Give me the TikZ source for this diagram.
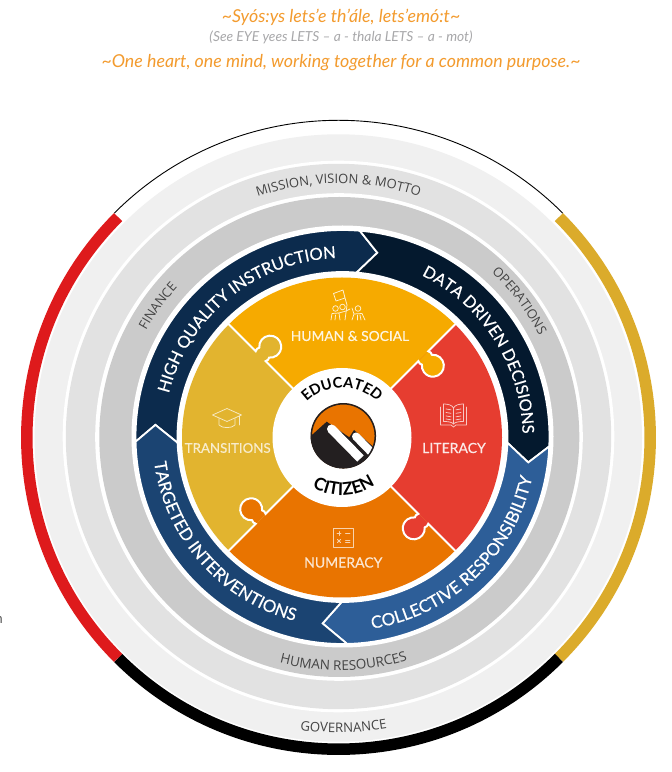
\documentclass[tikz,border=0pt]{standalone}
\usepackage{fontspec}
\setmainfont{Lato}
\newfontfamily\ringfont{Open Sans}
\newfontfamily\medfont[FakeBold=0.45]{Lato}
\usetikzlibrary{decorations.text}
\definecolor{ringA}{HTML}{F0F0F0}
\definecolor{ringB}{HTML}{E2E2E2}
\definecolor{ringC}{HTML}{CBCBCB}
\definecolor{hqi}{HTML}{0C2B4D}
\definecolor{ddd}{HTML}{04192E}
\definecolor{coll}{HTML}{2D5E98}
\definecolor{targ}{HTML}{1B4472}
\definecolor{human}{HTML}{F6AA00}
\definecolor{liter}{HTML}{E63D30}
\definecolor{numer}{HTML}{E97400}
\definecolor{trans}{HTML}{E2B42F}
\definecolor{motto}{HTML}{F39B2E}
\definecolor{subt}{HTML}{A8A8AA}
\definecolor{ringtxt}{HTML}{444444}
\definecolor{bandred}{HTML}{DE1A1C}
\definecolor{bandgold}{HTML}{DBAB2B}
\definecolor{logodark}{HTML}{231F20}
\tikzset{
  pxgrid/.style={x=1pt,y=-1pt,shift={(0pt,772pt)}},
  band/.style={line width=11.5pt},
  seam/.style={draw=white,line width=2pt},
  chevseg/.style={draw=white,line width=1.8pt,line join=miter},
  titletext/.style={inner sep=0pt},
  piecelabel/.style={inner sep=0pt},
  iconline/.style={line width=0.75pt,line cap=round,line join=round}
}
\newcommand{\chevpiece}[7]{%
  \fill[#1,chevseg] (#2:207pt) arc[start angle=#2,end angle=#3,radius=207pt]
    -- (#4:187.5pt) -- (#5:165pt)
    arc[start angle=#5,end angle=#6,radius=165pt] -- (#7:187.5pt) -- cycle;}
% radius, centre angle, half span, sign (-1 clockwise: tops outward; 1 ccw: tops inward), format, text
\newcommand{\curvedtext}[6]{%
  \pgfmathsetmacro{\startang}{#2-(#4)*(#3)}%
  \pgfmathsetmacro{\endang}{#2+(#4)*(#3)}%
  \path[decorate,decoration={text along path,text align=center,text={|#5|#6}}]
    (\startang:#1pt) arc[start angle=\startang,end angle=\endang,radius=#1pt];}
\newcommand{\knobpath}{(161,0) -- (122,0) .. controls (123,-2) and (123,-3.5) .. (122,-5)
   arc[start angle=50.5,end angle=-230.5,radius=11] .. controls (107,-3.5) and (107,-2) .. (108,0) -- (69,0)}
\begin{document}
\begin{tikzpicture}
\useasboundingbox (0pt,0pt) rectangle (672pt,772pt);
\fill[white] (0pt,0pt) rectangle (672pt,772pt);
% titles
\begin{scope}[pxgrid]
\node[titletext,text=motto] (title1) at (341,17) {\fontsize{17.8}{19}\selectfont\itshape\textasciitilde Syós:ys lets’e th’ále, lets’emó:t\textasciitilde};
\node[titletext,text=subt] (title2) at (341,37) {\fontsize{13.8}{15}\selectfont\itshape (See EYE yees LETS – a - thala LETS – a - mot)};
\node[titletext,text=motto] (title3) at (341,62.5) {\fontsize{17.8}{19}\selectfont\itshape\textasciitilde One heart, one mind, working together for a common purpose.\textasciitilde};
\node[text=ringtxt,inner sep=0pt,anchor=east,font=\fontsize{13}{14}\selectfont\ringfont] (stray) at (3,620) {n};
\end{scope}
% outer band
\begin{scope}[shift={(338.5pt,334.5pt)}]
\draw[black,line width=0.9pt] (135:317.2pt) arc[start angle=135,end angle=45,radius=317.2pt];
\draw[bandgold,band] (45:311.7pt) arc[start angle=45,end angle=-45,radius=311.7pt];
\draw[black,band] (-45:311.7pt) arc[start angle=-45,end angle=-135,radius=311.7pt];
\draw[bandred,band] (-135:311.7pt) arc[start angle=-135,end angle=-225,radius=311.7pt];
\end{scope}
% grey rings
\fill[ringA] (338.3pt,334pt) circle[radius=303.7pt];
\fill[white] (338.5pt,335.5pt) circle[radius=275.8pt];
\fill[ringB] (338.5pt,335.5pt) circle[radius=272.7pt];
\fill[white] (339pt,335pt) circle[radius=243.8pt];
\fill[ringC] (339.3pt,335pt) circle[radius=240pt];
\fill[white] (342.5pt,335.5pt) circle[radius=211pt];
% ring labels
\begin{scope}[shift={(338.5pt,334.5pt)}]
\curvedtext{254}{90}{30}{-1}{\ringfont\fontsize{13}{14}\selectfont\color{ringtxt}}{MISSION, VISION {\&} MOTTO}
\curvedtext{233}{-88.7}{30}{1}{\ringfont\fontsize{13.5}{14}\selectfont\color{ringtxt}}{HUMAN RESOURCES}
\curvedtext{295}{-89}{20}{1}{\ringfont\fontsize{13.2}{14}\selectfont\color{ringtxt}}{GOVERNANCE}
\curvedtext{220}{144}{20}{-1}{\ringfont\fontsize{13}{14}\selectfont\color{ringtxt}}{FINANCE}
\curvedtext{225}{37}{25}{-1}{\ringfont\fontsize{13}{14}\selectfont\color{ringtxt}}{OPERATIONS}
\end{scope}
% chevrons
\begin{scope}[shift={(342.5pt,335pt)}]
\chevpiece{hqi}{181.3}{85.2}{79.3}{85.1}{182}{176.3}
\chevpiece{ddd}{85.2}{-2.6}{-7.8}{-2}{85.1}{79.3}
\chevpiece{coll}{-2.6}{-88.7}{-96.1}{-90.3}{-2}{-7.8}
\chevpiece{targ}{-88.7}{-178.7}{176.3}{-178}{-90.3}{-96.1}
\curvedtext{179}{129}{50}{-1}{\medfont\fontsize{16.6}{18}\selectfont\color{white}}{HIGH QUALITY INSTRUCTION}
\curvedtext{180}{32.5}{42}{-1}{\medfont\fontsize{16.3}{18}\selectfont\color{white}}{DATA DRIVEN DECISIONS}
\curvedtext{194}{-46.6}{46}{1}{\medfont\fontsize{17}{18}\selectfont\color{white}}{COLLECTIVE RESPONSIBILITY}
\curvedtext{190}{221.5}{44}{1}{\medfont\fontsize{17}{18}\selectfont\color{white}}{TARGETED INTERVENTIONS}
\end{scope}
% puzzle
\begin{scope}[shift={(342pt,334.5pt)}]
\fill[human] (0,0) -- (135:160pt) arc[start angle=135,end angle=45,radius=160pt] -- cycle;
\fill[liter] (0,0) -- (45:160pt) arc[start angle=45,end angle=-45,radius=160pt] -- cycle;
\fill[numer] (0,0) -- (-45:160pt) arc[start angle=-45,end angle=-135,radius=160pt] -- cycle;
\fill[trans] (0,0) -- (-135:160pt) arc[start angle=-135,end angle=-225,radius=160pt] -- cycle;
\foreach \rot/\knobcol in {135/trans,45/human,-45/liter,-135/numer}{
  \begin{scope}[rotate=\rot,x=1pt,y=1pt]
    \fill[\knobcol] (122,0) .. controls (123,-2) and (123,-3.5) .. (122,-5)
      arc[start angle=50.5,end angle=-230.5,radius=11] .. controls (107,-3.5) and (107,-2) .. (108,0) -- cycle;
    \draw[seam] \knobpath;
  \end{scope}
}
\fill[white] (0,0) circle[radius=69.5pt];
\curvedtext{50}{90}{70}{-1}{\bfseries\fontsize{14.6}{16}\selectfont\color{black}}{EDUCATED}
\curvedtext{58}{-88}{60}{1}{\bfseries\fontsize{17.5}{18}\selectfont\color{black}}{CITIZEN}
\end{scope}
% logo, icons, labels
\begin{scope}[pxgrid]
\begin{scope}
\clip (343.3,435.8) circle[radius=32.5];
\fill[numer] (343.3,435.8) circle[radius=32.5];
\fill[logodark] (310,436.7) -- (326.7,421.7) -- (349.3,437.3) -- (354,430) -- (377,450) -- (377,470) -- (310,470) -- cycle;
\fill[white] (331.5,429) circle[radius=4.5];
\draw[white,line width=9pt] (331.5,429) -- (360.5,458.5);
\fill[white] (356,436.5) circle[radius=4];
\draw[white,line width=8pt] (356,436.5) -- (375,456);
\draw[logodark,line width=1.4pt] (350,439) -- (370,460);
\end{scope}
\draw[logodark,line width=1.5pt] (343.3,435.8) circle[radius=32];
\node[piecelabel,text=white!88!human,font=\medfont\fontsize{13.8}{15}\selectfont] (humanlabel) at (350,336) {HUMAN \& SOCIAL};
\node[piecelabel,text=white!88!liter,font=\medfont\fontsize{14}{15}\selectfont] (literlabel) at (454,448) {LITERACY};
\node[piecelabel,text=white!82!numer,font=\medfont\fontsize{14}{15}\selectfont] (numerlabel) at (343.3,562.5) {NUMERACY};
\node[piecelabel,text=white!75!trans,font=\medfont\fontsize{13.3}{15}\selectfont] (translabel) at (227.7,448) {TRANSITIONS};
% icon: people and flag
\begin{scope}[white!85!human,iconline]
\draw (333.5,293.5) -- (343,290) -- (345,298) -- (336,301) -- cycle;
\draw (345,298) -- (347,305) -- (345,320);
\draw (335.5,308.5) circle[radius=2.8];
\draw (342.5,307) circle[radius=2.8];
\draw (358,308.5) circle[radius=2.8];
\draw (331,320) -- (332,313.5) -- (339,313) -- (340,320);
\draw (335,320) -- (335.5,315);
\draw (339,313) -- (346,311) -- (350,309);
\draw (352,308) -- (354,314) -- (362,313.5) -- (365,320);
\draw (354,314) -- (352,320);
\draw (357,315) -- (357,320);
\draw (360,315) -- (361,320);
\end{scope}
% icon: book
\begin{scope}[white!72!liter,iconline]
\draw (440.5,407) -- (440.5,425) -- (451,425) -- (453.5,427) -- (456,425) -- (466.5,425) -- (466.5,407);
\draw (443.5,404) .. controls (448,404) and (452,405) .. (453.5,408) .. controls (455,405) and (459,404) .. (463.5,404) -- (463.5,421.5) .. controls (459,421.5) and (455,422) .. (453.5,424) .. controls (452,422) and (448,421.5) .. (443.5,421.5) -- cycle;
\draw (453.5,408) -- (453.5,424);
\foreach \ly in {409,412.5,416,419}{
  \draw (446,\ly) -- (451,\ly+0.8);
  \draw (456,\ly+0.8) -- (461,\ly);
}
\end{scope}
% icon: cap
\begin{scope}[white!72!trans,iconline]
\draw (212.5,415) -- (227,408.5) -- (241.5,415) -- (227,421.5) -- cycle;
\draw (219,418.5) -- (219,425) .. controls (222,428.5) and (232,428.5) .. (235,425) -- (235,418.5);
\draw (239,416) -- (239,425);
\end{scope}
% icon: calculator
\begin{scope}[white!68!numer,iconline]
\draw (333.5,528) rectangle (353,547);
\draw (337,533.5) -- (341,533.5) (339,531.5) -- (339,535.5);
\draw (345.5,533.5) -- (350,533.5);
\draw (337.5,539.5) -- (340.5,542.5) (340.5,539.5) -- (337.5,542.5);
\draw (345.5,540) -- (350,540) (345.5,542.5) -- (350,542.5);
\end{scope}
\end{scope}
\end{tikzpicture}
\end{document}
